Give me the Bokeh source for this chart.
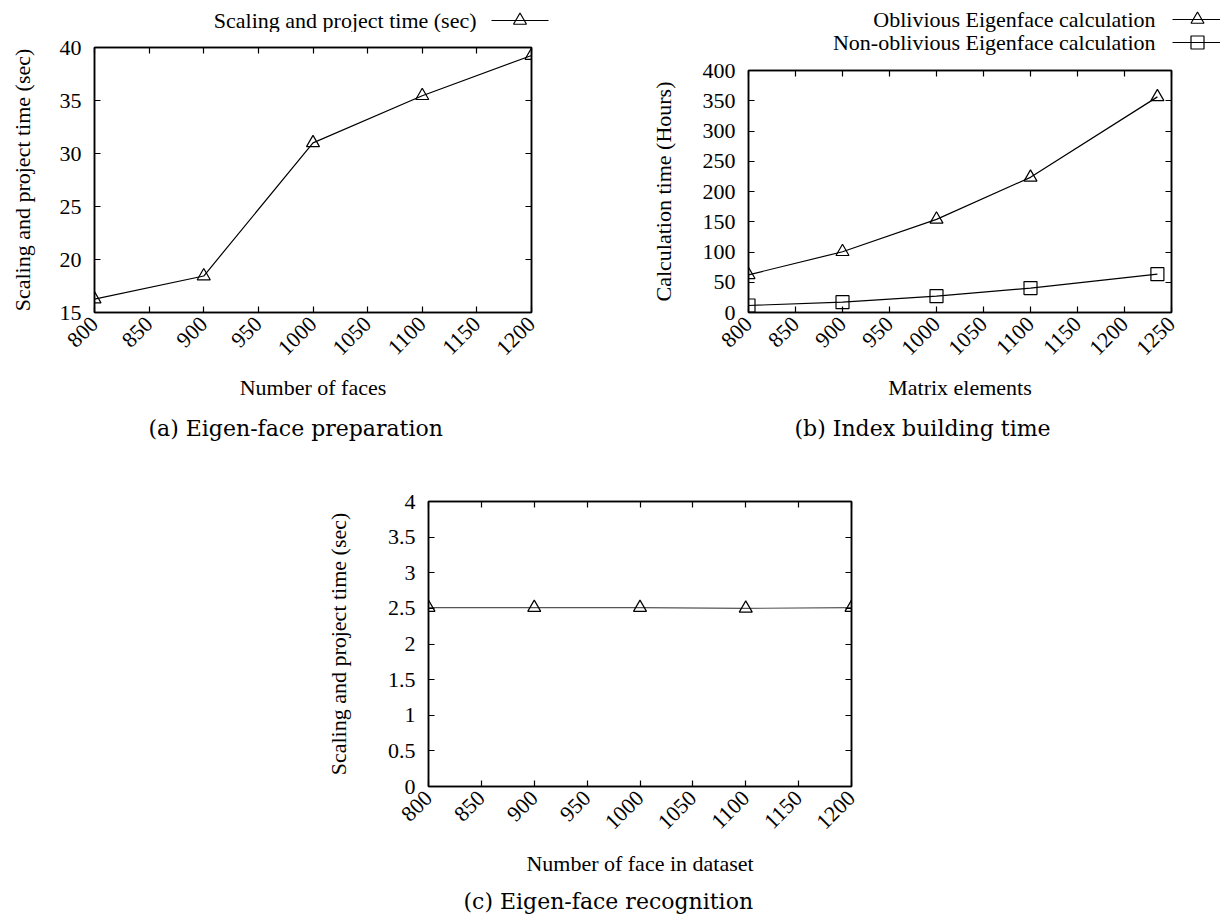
from bokeh.plotting import figure
from bokeh.layouts import column, row
from bokeh.models import Range1d, LinearAxis, FixedTicker, Title
from bokeh.core.properties import value
from bokeh.embed import file_html
from bokeh.resources import INLINE

# (a) Eigen-face preparation
faces_a = [800, 900, 1000, 1100, 1200]
prep_time = [16.26, 18.44, 31.0, 35.45, 39.24]

# (b) Index building time
matrix_elems = [800, 900, 1000, 1100, 1235]
oblivious_hours = [62.3, 100.4, 154.0, 223.4, 356.4]
non_oblivious_hours = [11.6, 17.1, 27.0, 40.3, 63.4]

# (c) Eigen-face recognition
faces_c = [800, 900, 1000, 1100, 1200]
recog_time = [2.51, 2.51, 2.51, 2.50, 2.51]

FONT = "Liberation Serif"
CAPTION_FONT = "DejaVu Serif"
TICK_FS = "22px"
LABEL_FS = "22px"
CAPTION_FS = "22px"
MARKER_SIZE = 13


def base_figure(width, height, left, right, top, bottom, xr, yr, xticks, yticks,
                xlabel, ylabel, ylabel_standoff, xlabel_standoff):
    p = figure(width=width, height=height, x_range=Range1d(*xr), y_range=Range1d(*yr),
               output_backend="svg", toolbar_location=None, frame_align=False,
               min_border_left=left, min_border_right=right,
               min_border_top=top, min_border_bottom=bottom)
    p.background_fill_color = "white"
    p.border_fill_color = "white"
    p.outline_line_color = "black"
    p.outline_line_width = 1.5
    p.xgrid.visible = False
    p.ygrid.visible = False

    # mirrored tick marks on the top and right edges
    top_ax = LinearAxis()
    right_ax = LinearAxis()
    p.add_layout(top_ax, "above")
    p.add_layout(right_ax, "right")

    for ax in p.xaxis:
        ax.ticker = FixedTicker(ticks=xticks)
    for ax in p.yaxis:
        ax.ticker = FixedTicker(ticks=yticks)

    for ax in p.axis:
        ax.axis_line_color = "black"
        ax.axis_line_width = 1.5
        ax.major_tick_in = 6
        ax.major_tick_out = 0
        ax.major_tick_line_color = "black"
        ax.major_tick_line_width = 1.2
        ax.minor_tick_line_color = None
        ax.major_label_text_font = FONT
        ax.major_label_text_font_size = TICK_FS
        ax.major_label_text_color = "black"
        ax.axis_label_text_font = FONT
        ax.axis_label_text_font_size = LABEL_FS
        ax.axis_label_text_font_style = "normal"
        ax.axis_label_text_color = "black"

    for ax in (top_ax, right_ax):
        ax.major_label_text_color = None
        ax.major_label_text_font_size = "1px"
        ax.major_label_standoff = 0

    bx = p.below[0]
    bx.major_label_orientation = 0.785398
    bx.major_label_standoff = 8
    bx.axis_label = xlabel
    bx.axis_label_standoff = xlabel_standoff

    ly = p.left[0]
    ly.major_label_standoff = 13
    ly.axis_label = ylabel
    ly.axis_label_standoff = ylabel_standoff
    return p


def series(p, xs, ys, marker, color="black"):
    p.line(xs, ys, line_color=color, line_width=1.2)
    p.scatter(xs, ys, marker=marker, size=MARKER_SIZE, fill_color=None,
              line_color="black", line_width=1.2)


def key_strip(width, height, entries, text_right, sample_left, sample_right, rows_y):
    """Strip above a chart holding its key: text on the left, line sample on the right.
    The strip is measured in pixels, y downward from its top edge."""
    k = figure(width=width, height=height, x_range=Range1d(0, width),
               y_range=Range1d(height, 0), x_axis_type=None, y_axis_type=None,
               output_backend="svg", toolbar_location=None, min_border=0,
               frame_align=False)
    k.outline_line_color = None
    k.background_fill_color = "white"
    k.border_fill_color = "white"
    k.xgrid.visible = False
    k.ygrid.visible = False
    for (label, marker), y in zip(entries, rows_y):
        k.text(x=[text_right], y=[y], text=[label], text_align="right",
               text_baseline="middle", text_font=value(FONT),
               text_font_size=value(LABEL_FS), text_color="black")
        k.line(x=[sample_left, sample_right], y=[y, y], line_color="black", line_width=1.2)
        k.scatter(x=[(sample_left + sample_right) / 2], y=[y], marker=marker,
                  size=MARKER_SIZE, fill_color=None, line_color="black", line_width=1.2)
    return k


def caption(p, text, offset, standoff):
    p.add_layout(Title(text=text, align="left", offset=offset, standoff=standoff,
                       text_font=CAPTION_FONT, text_font_size=CAPTION_FS,
                       text_font_style="normal", text_color="black"), "below")


# ---- (a) ----
key_a = key_strip(610, 32, [("Scaling and project time (sec)", "triangle")],
                  476, 491, 548, [20])
pa = base_figure(610, 433, 94, 79, 15, 153, (800, 1200), (15, 40),
                 list(range(800, 1201, 50)), list(range(15, 41, 5)),
                 "Number of faces", "Scaling and project time (sec)", 22, 10)
series(pa, faces_a, prep_time, "triangle")
caption(pa, "(a) Eigen-face preparation", 54, 22)

# ---- (b) ----
key_b = key_strip(610, 55, [("Oblivious Eigenface calculation", "triangle"),
                            ("Non-oblivious Eigenface calculation", "square")],
                  545, 562, 612, [19, 42])
pb = base_figure(610, 410, 138, 49, 15, 153, (800, 1250), (0, 400),
                 list(range(800, 1251, 50)), list(range(0, 401, 50)),
                 "Matrix elements", "Calculation time (Hours)", 24, 10)
series(pb, matrix_elems, oblivious_hours, "triangle")
series(pb, matrix_elems, non_oblivious_hours, "square")
caption(pb, "(b) Index building time", 46, 22)

# ---- (c) ----
pc = base_figure(1220, 458, 428, 369, 36, 137, (800, 1200), (0, 4),
                 list(range(800, 1201, 50)), [0, 0.5, 1, 1.5, 2, 2.5, 3, 3.5, 4],
                 "Number of face in dataset", "Scaling and project time (sec)", 34, 12)
series(pc, faces_c, recog_time, "triangle", color="#555555")
caption(pc, "(c) Eigen-face recognition", 35, 16)

layout = column(row(column(key_a, pa), column(key_b, pb)), pc)
open("out.html", "w").write(file_html(layout, INLINE))
